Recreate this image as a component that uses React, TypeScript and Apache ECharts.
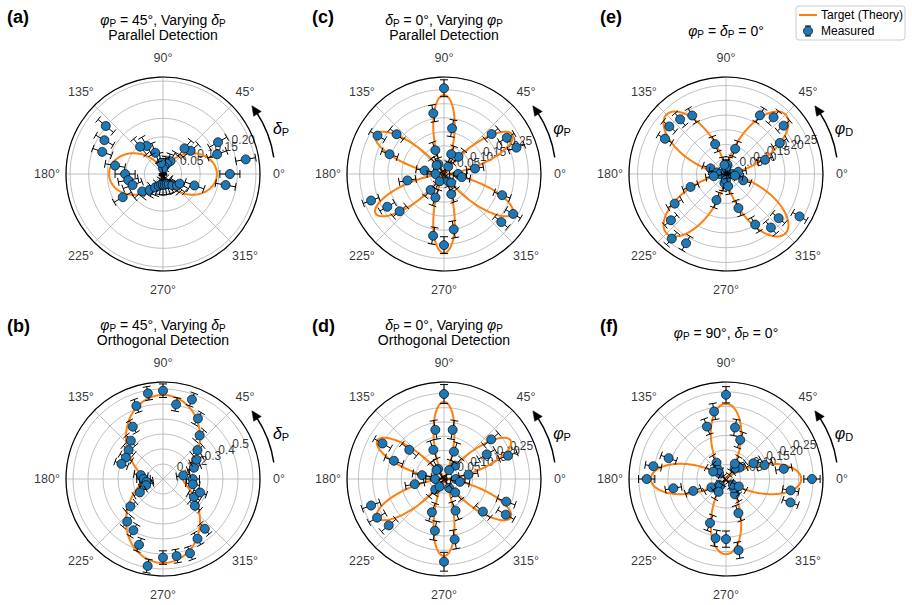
import React, { useEffect, useRef } from 'react';
import * as echarts from 'echarts';

// ---------------- data ----------------
const ANGLES = [0, 10, 20, 30, 40, 50, 60, 70, 80, 90, 100, 110, 120, 130, 140, 150, 160, 170,
  180, 190, 200, 210, 220, 230, 240, 250, 260, 270, 280, 290, 300, 310, 320, 330, 340, 350];

// measured intensity (panels a..f), one value per angle in ANGLES
const measuredA = [0.18, 0.226, 0.155, 0.171, 0.097, 0.09, 0.04, 0.03, 0.02, 0.015, 0.03, 0.061, 0.087, 0.096, 0.201, 0.182, 0.174, 0.131,
  0.102, 0.095, 0.087, 0.125, 0.073, 0.056, 0.042, 0.034, 0.029, 0.029, 0.029, 0.029, 0.031, 0.039, 0.049, 0.052, 0.09, 0.171];
const measuredB = [0.198, 0.137, 0.22, 0.258, 0.3, 0.38, 0.466, 0.564, 0.505, 0.589, 0.58, 0.519, 0.403, 0.334, 0.3, 0.286, 0.295, 0.15,
  0.13, 0.112, 0.12, 0.178, 0.284, 0.371, 0.395, 0.467, 0.589, 0.524, 0.522, 0.527, 0.46, 0.434, 0.278, 0.238, 0.263, 0.202];
const measuredC = [0.05, 0.112, 0.274, 0.258, 0.221, 0.08, 0.03, 0.075, 0.165, 0.305, 0.219, 0.09, 0.04, 0.041, 0.22, 0.273, 0.206, 0.07,
  0.03, 0.132, 0.276, 0.233, 0.206, 0.074, 0.03, 0.089, 0.223, 0.253, 0.2, 0.076, 0.03, 0.04, 0.266, 0.284, 0.22, 0.064];
const measuredD = [0.041, 0.087, 0.239, 0.173, 0.216, 0.061, 0.036, 0.102, 0.175, 0.298, 0.175, 0.109, 0.041, 0.041, 0.159, 0.249, 0.187, 0.078,
  0.031, 0.104, 0.272, 0.271, 0.253, 0.048, 0.031, 0.124, 0.184, 0.29, 0.215, 0.118, 0.036, 0.061, 0.178, 0.25, 0.232, 0.057];
const measuredE = [0.021, 0.042, 0.141, 0.211, 0.255, 0.251, 0.23, 0.091, 0.031, 0.021, 0.031, 0.108, 0.229, 0.242, 0.251, 0.239, 0.056, 0.031,
  0.021, 0.042, 0.128, 0.201, 0.244, 0.286, 0.271, 0.094, 0.031, 0.021, 0.042, 0.123, 0.198, 0.237, 0.233, 0.288, 0.062, 0.031];
const measuredF = [0.296, 0.202, 0.141, 0.109, 0.061, 0.046, 0.061, 0.143, 0.18, 0.29, 0.236, 0.192, 0.065, 0.041, 0.031, 0.051, 0.21, 0.254,
  0.273, 0.184, 0.12, 0.058, 0.031, 0.031, 0.051, 0.161, 0.207, 0.207, 0.249, 0.125, 0.061, 0.041, 0.031, 0.051, 0.236, 0.226];
const MEASURED = [measuredA, measuredB, measuredC, measuredD, measuredE, measuredF];

// half-length of the radial error bars
const errHalf = [0.027, 0.045, 0.03, 0.033, 0.027, 0.028];

// theory: r = base + amp * cos^2(order * (theta - axis))
const theoryBase = [0, 0.133, 0, 0, 0, 0];
const theoryAmp = [0.145, 0.427, 0.281, 0.27, 0.285, 0.259];
const lobeOrder = [1, 1, 3, 3, 2, 2];
const lobeAxisDeg = [0, 90, 90, 90, 45, 0];

// radial axes
const radiusMax = [0.261, 0.647, 0.345, 0.34, 0.329, 0.334];
const radiusStep = [0.05, 0.1, 0.05, 0.05, 0.05, 0.05];
const radialTickLabels = [
  [0.05, 0.1, 0.15, 0.2],
  [0.1, 0.2, 0.3, 0.4, 0.5],
  [0.05, 0.1, 0.15, 0.2, 0.25],
  [0.05, 0.1, 0.15, 0.2, 0.25],
  [0.05, 0.1, 0.15, 0.2, 0.25],
  [0.05, 0.1, 0.15, 0.2, 0.25],
];
const radialDecimals = [2, 1, 2, 2, 2, 2];
const angleTicks = [0, 45, 90, 135, 180, 225, 270, 315];

// texts
const panelLetters = ['(a)', '(b)', '(c)', '(d)', '(e)', '(f)'];
const panelTitles = [
  ['{i|φ}{s|P} = 45°, Varying {i|δ}{s|P}', 'Parallel Detection'],
  ['{i|φ}{s|P} = 45°, Varying {i|δ}{s|P}', 'Orthogonal Detection'],
  ['{i|δ}{s|P} = 0°, Varying {i|φ}{s|P}', 'Parallel Detection'],
  ['{i|δ}{s|P} = 0°, Varying {i|φ}{s|P}', 'Orthogonal Detection'],
  ['{i|φ}{s|P} = {i|δ}{s|P} = 0°'],
  ['{i|φ}{s|P} = 90°, {i|δ}{s|P} = 0°'],
];
const arrowLabels = ['{i|δ}{s|P}', '{i|δ}{s|P}', '{i|φ}{s|P}', '{i|φ}{s|P}', '{i|φ}{s|D}', '{i|φ}{s|D}'];
const legendNames = ['Target (Theory)', 'Measured'];

// ---------------- layout ----------------
const W = 912;
const H = 605;
const CX = [163, 163, 444, 444, 726, 726];
const CY = [174, 479, 174, 479, 174, 479];
const R = 97;
const ANGLE_LABEL_R = 116;
const RLABEL_ANGLE = 22.5;
const FONT = '"Liberation Sans", Arial, Helvetica, sans-serif';
const ORANGE = '#ff7f0e';
const BLUE = '#1f77b4';
const GRID = '#b0b0b0';
const CAP = 4;
const MARK_R = 4.5;

const RICH = {
  i: { fontStyle: 'italic', fontSize: 14, fontFamily: FONT, fill: '#000' },
  s: { fontSize: 10, fontFamily: FONT, fill: '#000', verticalAlign: 'bottom', lineHeight: 10 },
};
const RICH_ARROW = {
  i: { fontStyle: 'italic', fontSize: 16, fontFamily: FONT, fill: '#000' },
  s: { fontSize: 11, fontFamily: FONT, fill: '#000', verticalAlign: 'bottom', lineHeight: 10 },
};

function theoryCurve(k: number) {
  const pts: number[][] = [];
  for (let t = 0; t <= 360; t += 1) {
    const c = Math.cos((lobeOrder[k] * (t - lobeAxisDeg[k]) * Math.PI) / 180);
    pts.push([theoryBase[k] + theoryAmp[k] * c * c, t]);
  }
  return pts;
}

function buildOption() {
  const polar: any[] = [];
  const angleAxis: any[] = [];
  const radiusAxis: any[] = [];
  const series: any[] = [];
  const graphic: any[] = [];

  for (let k = 0; k < 6; k++) {
    polar.push({ center: [CX[k], CY[k]], radius: R });
    angleAxis.push({
      polarIndex: k,
      type: 'value',
      min: 0,
      max: 360,
      interval: 45,
      startAngle: 0,
      clockwise: false,
      axisLine: { show: true, lineStyle: { color: '#000', width: 1.2 } },
      axisTick: { show: false },
      axisLabel: { show: false },
      splitLine: { show: true, lineStyle: { color: GRID, width: 0.8 } },
      z: 0,
    });
    radiusAxis.push({
      polarIndex: k,
      type: 'value',
      min: 0,
      max: radiusMax[k],
      interval: radiusStep[k],
      axisLine: { show: false },
      axisTick: { show: false },
      axisLabel: { show: false },
      splitLine: { show: true, lineStyle: { color: GRID, width: 0.8 } },
      z: 0,
    });

    // radial tick labels
    series.push({
      type: 'scatter',
      coordinateSystem: 'polar',
      polarIndex: k,
      silent: true,
      clip: false,
      symbolSize: 0.1,
      itemStyle: { color: 'transparent' },
      z: 1,
      data: radialTickLabels[k].map((v) => ({ value: [v, RLABEL_ANGLE], name: v.toFixed(radialDecimals[k]) })),
      label: {
        show: true,
        formatter: '{b}',
        position: [0, 0],
        align: 'left',
        verticalAlign: 'bottom',
        color: '#000',
        fontSize: 12,
        fontFamily: FONT,
      },
    });
    // angular tick labels
    series.push({
      type: 'scatter',
      coordinateSystem: 'polar',
      polarIndex: k,
      silent: true,
      clip: false,
      symbolSize: 0.1,
      itemStyle: { color: 'transparent' },
      z: 1,
      data: angleTicks.map((a) => ({ value: [(radiusMax[k] * ANGLE_LABEL_R) / R, a], name: a + '°' })),
      label: {
        show: true,
        formatter: '{b}',
        position: [0, 0],
        align: 'center',
        verticalAlign: 'middle',
        color: '#000',
        fontSize: 12.5,
        fontFamily: FONT,
      },
    });
    // theory
    series.push({
      type: 'line',
      coordinateSystem: 'polar',
      polarIndex: k,
      silent: true,
      showSymbol: false,
      symbol: 'none',
      data: theoryCurve(k),
      lineStyle: { color: ORANGE, width: 2 },
      z: 3,
    });
    // measured with radial error bars
    const e = errHalf[k];
    series.push({
      type: 'custom',
      coordinateSystem: 'polar',
      polarIndex: k,
      silent: true,
      clip: false,
      z: 4,
      data: MEASURED[k].map((r, j) => [r, ANGLES[j]]),
      renderItem: (params: any, api: any) => {
        const r = api.value(0) as number;
        const th = api.value(1) as number;
        const c = api.coord([r, th]);
        const a = api.coord([Math.max(r - e, 0), th]);
        const b = api.coord([r + e, th]);
        const rad = (th * Math.PI) / 180;
        const px = Math.sin(rad) * CAP;
        const py = Math.cos(rad) * CAP;
        const ls = { stroke: '#000', lineWidth: 1 };
        return {
          type: 'group',
          children: [
            { type: 'line', shape: { x1: a[0], y1: a[1], x2: b[0], y2: b[1] }, style: ls },
            { type: 'line', shape: { x1: a[0] - px, y1: a[1] - py, x2: a[0] + px, y2: a[1] + py }, style: ls },
            { type: 'line', shape: { x1: b[0] - px, y1: b[1] - py, x2: b[0] + px, y2: b[1] + py }, style: ls },
            { type: 'circle', shape: { cx: c[0], cy: c[1], r: MARK_R }, style: { fill: BLUE, stroke: '#000', lineWidth: 0.7 } },
          ],
        };
      },
    });

    // panel letter
    const top = k % 2 === 0;
    graphic.push({
      type: 'text',
      x: CX[k] - (k >= 4 ? 126 : k >= 2 ? 132 : 156),
      y: top ? 17 : 326,
      style: { text: panelLetters[k], fontSize: 18, fontWeight: 'bold', fontFamily: FONT, fill: '#000', verticalAlign: 'middle', align: 'left' },
      z: 10,
    });
    // title
    const lines = panelTitles[k];
    const baseY = top ? 20 : 325;
    lines.forEach((t, li) => {
      graphic.push({
        type: 'text',
        x: CX[k],
        y: lines.length === 1 ? (top ? 31 : 333) : baseY + li * 14.5,
        style: {
          text: t,
          fontSize: 14,
          fontFamily: FONT,
          fill: '#000',
          align: 'center',
          verticalAlign: 'middle',
          lineHeight: 16,
          rich: RICH,
        },
        z: 10,
      });
    });
    // rotation arrow
    const ar = 112;
    const d2r = Math.PI / 180;
    graphic.push({
      type: 'arc',
      shape: { cx: CX[k], cy: CY[k], r: ar, startAngle: -33.5 * d2r, endAngle: -8.5 * d2r, clockwise: true },
      style: { stroke: '#000', lineWidth: 1.5, fill: 'none' },
      z: 10,
    });
    const tip = 37.5 * d2r;
    const base = 32.5 * d2r;
    graphic.push({
      type: 'polygon',
      shape: {
        points: [
          [CX[k] + ar * Math.cos(tip), CY[k] - ar * Math.sin(tip)],
          [CX[k] + (ar + 4.5) * Math.cos(base), CY[k] - (ar + 4.5) * Math.sin(base)],
          [CX[k] + (ar - 4.5) * Math.cos(base), CY[k] - (ar - 4.5) * Math.sin(base)],
        ],
      },
      style: { fill: '#000', stroke: '#000', lineWidth: 0.5 },
      z: 10,
    });
    graphic.push({
      type: 'text',
      x: CX[k] + 118,
      y: CY[k] - 46,
      style: {
        text: arrowLabels[k],
        fontSize: 16,
        fontFamily: FONT,
        fill: '#000',
        align: 'center',
        verticalAlign: 'middle',
        lineHeight: 18,
        rich: RICH_ARROW,
      },
      z: 10,
    });
  }

  // legend
  const lx = 796;
  const ly = 6;
  graphic.push({
    type: 'rect',
    shape: { x: lx, y: ly, width: 109, height: 34, r: 3 },
    style: { fill: 'rgba(255,255,255,0.8)', stroke: '#cccccc', lineWidth: 1 },
    z: 20,
  });
  graphic.push({
    type: 'line',
    shape: { x1: lx + 3, y1: ly + 9, x2: lx + 21, y2: ly + 9 },
    style: { stroke: ORANGE, lineWidth: 2 },
    z: 21,
  });
  graphic.push({
    type: 'text',
    x: lx + 25,
    y: ly + 9,
    style: { text: legendNames[0], fontSize: 12, fontFamily: FONT, fill: '#000', verticalAlign: 'middle', align: 'left' },
    z: 21,
  });
  const mx = lx + 12;
  const my = ly + 25;
  [
    { x1: mx, y1: my - 5, x2: mx, y2: my + 5 },
    { x1: mx - 3, y1: my - 5, x2: mx + 3, y2: my - 5 },
    { x1: mx - 3, y1: my + 5, x2: mx + 3, y2: my + 5 },
  ].forEach((s) => graphic.push({ type: 'line', shape: s, style: { stroke: '#000', lineWidth: 1 }, z: 21 }));
  graphic.push({
    type: 'circle',
    shape: { cx: mx, cy: my, r: MARK_R },
    style: { fill: BLUE, stroke: '#000', lineWidth: 0.7 },
    z: 22,
  });
  graphic.push({
    type: 'text',
    x: lx + 25,
    y: my,
    style: { text: legendNames[1], fontSize: 12, fontFamily: FONT, fill: '#000', verticalAlign: 'middle', align: 'left' },
    z: 21,
  });

  return {
    animation: false,
    backgroundColor: '#ffffff',
    textStyle: { fontFamily: FONT },
    polar,
    angleAxis,
    radiusAxis,
    series,
    graphic,
  };
}

export default function App() {
  const ref = useRef<HTMLDivElement>(null);
  useEffect(() => {
    if (!ref.current) return;
    const chart = echarts.init(ref.current, undefined, { renderer: 'svg' });
    chart.setOption(buildOption() as any);
    return () => chart.dispose();
  }, []);
  return (
    <div
      ref={ref}
      style={{ position: 'fixed', left: 0, top: 0, width: W, height: H, background: '#fff' }}
    />
  );
}
